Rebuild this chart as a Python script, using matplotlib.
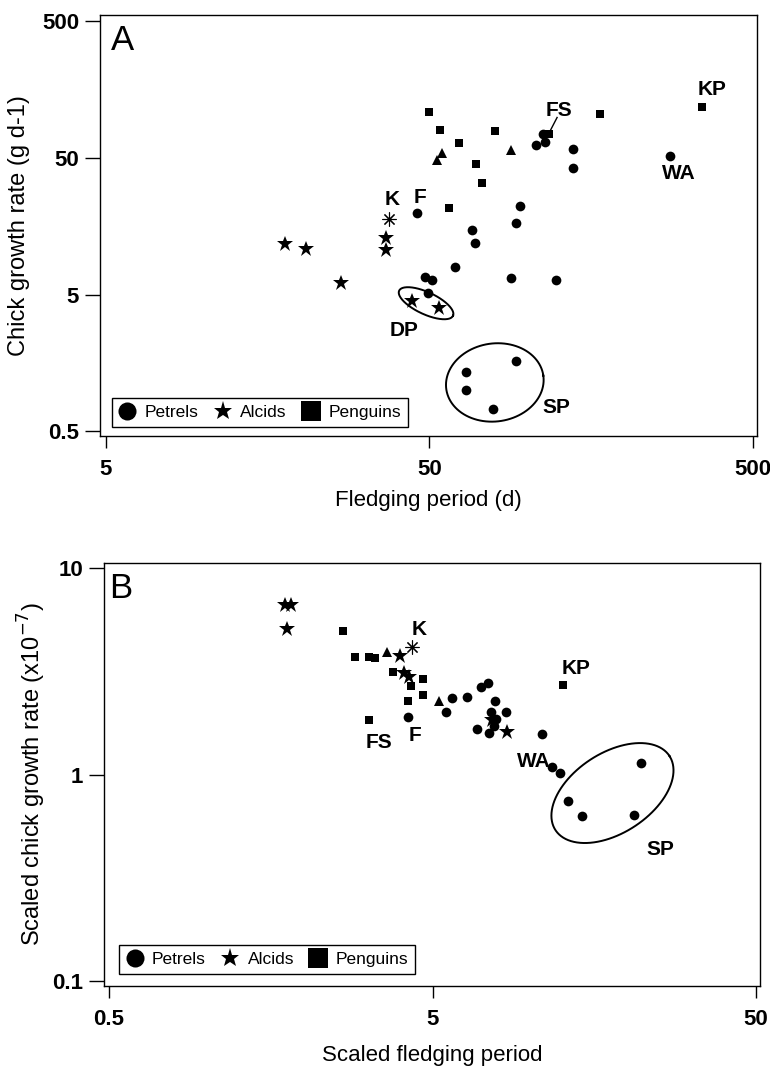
import numpy as np
import matplotlib
matplotlib.use('Agg')
import matplotlib.pyplot as plt
from matplotlib.lines import Line2D
from matplotlib.ticker import NullLocator

plt.rcParams['font.family'] = ['Liberation Sans', 'DejaVu Sans']

# data, panel A (fledging period d, chick growth rate g/d)
#
a_petrels_x = [112, 114, 107, 139, 139, 276, 45.7, 95.3, 92.4, 67.5, 69, 60, 48.3, 51,
               89.6, 122.8, 49.4, 65, 65, 78.7, 92.7]
a_petrels_y = [74, 65.2, 61.5, 58.2, 42, 51.4, 19.8, 22, 16.7, 14.9, 11.9, 7.9, 6.7, 6.4,
               6.6, 6.4, 5.14, 1.37, 1.0, 0.727, 1.63]
a_alcids_x = [17.9, 20.8, 36.8, 36.8, 26.7, 44.2, 53.4]
a_alcids_y = [11.6, 10.8, 13, 10.5, 6.05, 4.52, 3.99]
a_penguins_x = [49.9, 53.8, 61.9, 79.7, 69.4, 72.6, 57.5, 117, 168.8, 348]
a_penguins_y = [108, 80, 64.4, 78.4, 45.2, 32.6, 21.5, 74.1, 103.8, 117]
a_tri_x = [54.7, 52.7, 89.1]
a_tri_y = [54.1, 47.8, 56.6]
a_k_x, a_k_y = [37.5], [17.9]

# data, panel B (scaled values)
#
b_petrels_x = [4.21, 5.52, 5.76, 6.40, 7.05, 7.42, 7.80, 7.60, 8.45, 7.85, 6.85, 7.50, 7.72,
               10.9, 11.7, 12.4, 22.1, 13.1, 14.5, 21.0]
b_petrels_y = [1.89, 2.01, 2.34, 2.38, 2.65, 2.79, 2.28, 2.02, 2.02, 1.85, 1.67, 1.585, 1.71,
               1.58, 1.09, 1.02, 1.14, 0.741, 0.626, 0.634]
b_alcids_x = [1.755, 1.82, 1.77, 3.98, 4.08, 4.24, 8.50, 7.62]
b_alcids_y = [6.62, 6.62, 5.06, 3.74, 3.10, 2.96, 1.61, 1.84]
b_penguins_x = [2.64, 2.886, 3.18, 3.32, 3.78, 4.67, 4.28, 4.66, 4.19, 3.18, 12.7]
b_penguins_y = [4.95, 3.71, 3.71, 3.68, 3.13, 2.91, 2.68, 2.43, 2.28, 1.83, 2.73]
b_tri_x = [3.61, 5.24]
b_tri_y = [3.92, 2.26]
b_k_x, b_k_y = [4.33], [4.15]

# species labels
#
a_labels = ['KP', 'FS', 'WA', 'K', 'F', 'DP', 'SP']
a_label_x = [373, 126, 294, 38.4, 46.9, 41.7, 123]
a_label_y = [157, 111, 38.2, 24.8, 25.7, 2.75, 0.75]
b_labels = ['K', 'KP', 'FS', 'F', 'WA', 'SP']
b_label_x = [4.55, 13.9, 3.42, 4.41, 10.3, 25.3]
b_label_y = [5.04, 3.25, 1.43, 1.54, 1.16, 0.433]


def outline(ax, cx, cy, a, b, ang):
    # ellipse drawn in pixel space around a data point
    t = np.linspace(0, 2 * np.pi, 200)
    px, py = ax.transData.transform((cx, cy))
    th = np.deg2rad(ang)
    ex = px + a * np.cos(t) * np.cos(th) - b * np.sin(t) * np.sin(th)
    ey = py + a * np.cos(t) * np.sin(th) + b * np.sin(t) * np.cos(th)
    d = ax.transData.inverted().transform(np.column_stack([ex, ey]))
    ax.plot(d[:, 0], d[:, 1], color='k', lw=1.4)


def style(ax, xt, yt):
    ax.set_xscale('log')
    ax.set_yscale('log')
    ax.set_xticks(xt)
    ax.set_xticklabels([('%g' % v) for v in xt])
    ax.set_yticks(yt)
    ax.set_yticklabels([('%g' % v) for v in yt])
    ax.xaxis.set_minor_locator(NullLocator())
    ax.yaxis.set_minor_locator(NullLocator())
    ax.tick_params(axis='x', direction='out', length=8.5, width=1, pad=8,
                   labelsize=16)
    ax.tick_params(axis='y', direction='out', length=11, width=1, pad=4,
                   labelsize=16)
    for lab in ax.get_xticklabels() + ax.get_yticklabels():
        lab.set_fontweight('bold')
    for s in ax.spines.values():
        s.set_linewidth(1)


def points(ax, px, py, bx, by, qx, qy, tx, ty, kx, ky):
    ax.plot(px, py, 'o', color='k', ms=7, mew=0)
    ax.plot(bx, by, '*', color='k', ms=12, mew=0)
    ax.plot(qx, qy, 's', color='k', ms=6.3, mew=0)
    ax.plot(tx, ty, '^', color='k', ms=7.5, mew=0)
    ax.plot(kx, ky, marker=(8, 2, 0), color='k', ms=10, mew=0.8, ls='none')


def legend(ax, x0, y0):
    h = [Line2D([], [], marker='o', color='k', ls='none', ms=13, mew=0),
         Line2D([], [], marker='*', color='k', ls='none', ms=14, mew=0),
         Line2D([], [], marker='s', color='k', ls='none', ms=14, mew=0)]
    lg = ax.legend(h, ['Petrels', 'Alcids', 'Penguins'], ncol=3, loc='lower left',
                   bbox_to_anchor=(x0, y0), fontsize=12.5, frameon=True,
                   fancybox=False, edgecolor='k', framealpha=1, borderpad=0.4,
                   handlelength=1.0, handletextpad=0.5, columnspacing=0.9,
                   borderaxespad=0)
    lg.get_frame().set_linewidth(1)


fig = plt.figure(figsize=(7.7, 10.69), dpi=100)

# panel A
#
axA = fig.add_axes([100 / 770, 1 - 435.7 / 1069, 657 / 770, 420.7 / 1069])
style(axA, [5, 50, 500], [0.5, 5, 50, 500])
axA.set_xlim(5 / 10 ** 0.0185, 500 * 10 ** 0.0124)
axA.set_ylim(0.5 / 10 ** 0.031, 500 * 10 ** 0.0416)
points(axA, a_petrels_x, a_petrels_y, a_alcids_x, a_alcids_y, a_penguins_x, a_penguins_y,
       a_tri_x, a_tri_y, a_k_x, a_k_y)
outline(axA, 48.8, 4.32, 29.7, 11, -25)
outline(axA, 79.6, 1.14, 49, 39, 8)
for t, x, y in zip(a_labels, a_label_x, a_label_y):
    axA.text(x, y, t, ha='center', va='center', fontsize=15, fontweight='bold')
axA.plot([124, 118], [98.2, 78.3], color='k', lw=1)
axA.text(0.035, 0.94, 'A', transform=axA.transAxes, ha='center', va='center', fontsize=25)
legend(axA, 0.018, 0.021)
axA.set_xlabel('Fledging period (d)', fontsize=16)
axA.xaxis.set_label_coords(0.5, -0.129)
axA.set_ylabel('Chick growth rate (g d-1)', fontsize=17)
axA.yaxis.set_label_coords(-0.1065, 0.5)

# panel B
#
axB = fig.add_axes([104 / 770, 1 - 985.7 / 1069, 656 / 770, 422.7 / 1069])
style(axB, [0.5, 5, 50], [0.1, 1, 10])
axB.set_xlim(0.5 / 10 ** 0.0155, 50 * 10 ** 0.0124)
axB.set_ylim(0.1 / 10 ** 0.0242, 10 * 10 ** 0.0257)
points(axB, b_petrels_x, b_petrels_y, b_alcids_x, b_alcids_y, b_penguins_x, b_penguins_y,
       b_tri_x, b_tri_y, b_k_x, b_k_y)
outline(axB, 18.0, 0.813, 68, 40, 33)
for t, x, y in zip(b_labels, b_label_x, b_label_y):
    axB.text(x, y, t, ha='center', va='center', fontsize=15, fontweight='bold')
axB.text(0.025, 0.94, 'B', transform=axB.transAxes, ha='center', va='center', fontsize=25)
legend(axB, 0.023, 0.028)
axB.set_xlabel('Scaled fledging period', fontsize=16)
axB.xaxis.set_label_coords(0.5, -0.140)
axB.set_ylabel('Scaled chick growth rate (x10$^{-7}$)', fontsize=17)
axB.yaxis.set_label_coords(-0.085, 0.5)

fig.savefig('out.png', dpi=100)
